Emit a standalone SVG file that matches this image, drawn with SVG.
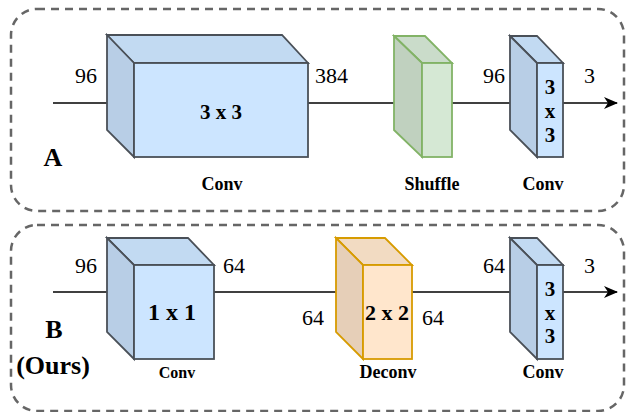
<svg xmlns="http://www.w3.org/2000/svg" width="626" height="412" viewBox="0 0 626 412">
<defs>
<style>
.panel{fill:none;stroke:#666666;stroke-width:2.5;stroke-dasharray:8 6}
.ln{stroke:#000;stroke-width:1.5;fill:none}
.bf{fill:#cce5ff}.bl{fill:#b8cee6}.bt{fill:#c2daf2}
.gf{fill:#d5e8d4}.gl{fill:#c0d1bf}.gt{fill:#cadcca}
.of{fill:#ffe6cc}.ol{fill:#e6cfb8}.ot{fill:#f2dbc2}
.bs{stroke:#4a5058;stroke-width:1.8;stroke-linejoin:miter}
.gs{stroke:#82b366;stroke-width:1.8}
.os{stroke:#d79b00;stroke-width:1.8}
.num{font-family:"Liberation Serif",serif;font-size:22px;fill:#000}
.lbl{font-family:"Liberation Serif",serif;font-weight:bold;font-size:18px;fill:#000;text-anchor:middle}
.ker{font-family:"Liberation Serif",serif;font-weight:bold;font-size:21px;fill:#000;text-anchor:middle}
.big{font-family:"Liberation Serif",serif;font-weight:bold;font-size:26px;fill:#000;text-anchor:middle}
</style>
<marker id="arr" viewBox="0 0 14 12" refX="13" refY="6" markerWidth="14" markerHeight="12" markerUnits="userSpaceOnUse" orient="auto">
<path d="M0,0 L14,6 L0,12 L4,6 Z" fill="#000"/>
</marker>
</defs>
<g id="panelA"><rect class="panel" x="11" y="9" width="613" height="202" rx="26"/></g>
<g id="panelB"><rect class="panel" x="11" y="225" width="613" height="186" rx="26"/></g>
<g id="connectors">
<line class="ln" x1="53" y1="103" x2="107" y2="103"/>
<line class="ln" x1="308" y1="103" x2="394" y2="103"/>
<line class="ln" x1="452" y1="103" x2="510" y2="103"/>
<line class="ln" x1="563" y1="103" x2="617" y2="103" marker-end="url(#arr)"/>
<line class="ln" x1="53" y1="292" x2="107" y2="292"/>
<line class="ln" x1="214" y1="292" x2="336" y2="292"/>
<line class="ln" x1="412" y1="292" x2="510" y2="292"/>
<line class="ln" x1="563" y1="292" x2="617" y2="292" marker-end="url(#arr)"/>
</g>
<g id="convA1">
<polygon class="bt bs" points="107,35 282,35 308,63 134,63"/>
<polygon class="bl bs" points="107,35 134,63 134,157 107,130"/>
<rect class="bf bs" x="134" y="63" width="174" height="94"/>
<text class="ker" x="221" y="119">3 x 3</text>
<text class="lbl" x="222" y="190">Conv</text>
</g>
<g id="shuffle">
<polygon class="gt gs" points="394,36 425,36 452,63 422,63"/>
<polygon class="gl gs" points="394,36 422,63 422,157 394,130"/>
<rect class="gf gs" x="422" y="63" width="30" height="94"/>
<text class="lbl" x="432" y="190">Shuffle</text>
</g>
<g id="convA2">
<polygon class="bt bs" points="510,36 537,36 563,63 537,63"/>
<polygon class="bl bs" points="510,36 537,63 537,157 510,130"/>
<rect class="bf bs" x="537" y="63" width="26" height="94"/>
<text class="ker" x="550" y="94">3</text>
<text class="ker" x="550" y="118">x</text>
<text class="ker" x="550" y="142">3</text>
<text class="lbl" x="543" y="190">Conv</text>
</g>
<g id="labelsA">
<text class="num" x="75" y="83">96</text>
<text class="num" x="315" y="83">384</text>
<text class="num" x="483" y="83">96</text>
<text class="num" x="584" y="83">3</text>
<text class="big" x="53" y="166">A</text>
</g>
<g id="convB1">
<polygon class="bt bs" points="107,238 188,238 214,265 134,265"/>
<polygon class="bl bs" points="107,238 134,265 134,359 107,332"/>
<rect class="bf bs" x="134" y="265" width="80" height="94"/>
<text class="big" x="172" y="320" style="font-size:24px">1 x 1</text>
<text class="lbl" x="177" y="378" style="font-size:16px">Conv</text>
</g>
<g id="deconv">
<polygon class="ot os" points="336,238 385,238 412,265 363,265"/>
<polygon class="ol os" points="336,238 363,265 363,359 336,332"/>
<rect class="of os" x="363" y="265" width="49" height="94"/>
<text class="ker" x="387" y="320" style="font-size:22px">2 x 2</text>
<text class="lbl" x="388" y="378">Deconv</text>
</g>
<g id="convB2">
<polygon class="bt bs" points="510,238 537,238 563,265 537,265"/>
<polygon class="bl bs" points="510,238 537,265 537,359 510,332"/>
<rect class="bf bs" x="537" y="265" width="26" height="94"/>
<text class="ker" x="550" y="296">3</text>
<text class="ker" x="550" y="320">x</text>
<text class="ker" x="550" y="343">3</text>
<text class="lbl" x="543" y="378">Conv</text>
</g>
<g id="labelsB">
<text class="num" x="75" y="273">96</text>
<text class="num" x="223" y="273">64</text>
<text class="num" x="302" y="325">64</text>
<text class="num" x="422" y="325">64</text>
<text class="num" x="483" y="273">64</text>
<text class="num" x="584" y="273">3</text>
<text class="big" x="54" y="338">B</text>
<text class="big" x="53" y="374">(Ours)</text>
</g>
</svg>
